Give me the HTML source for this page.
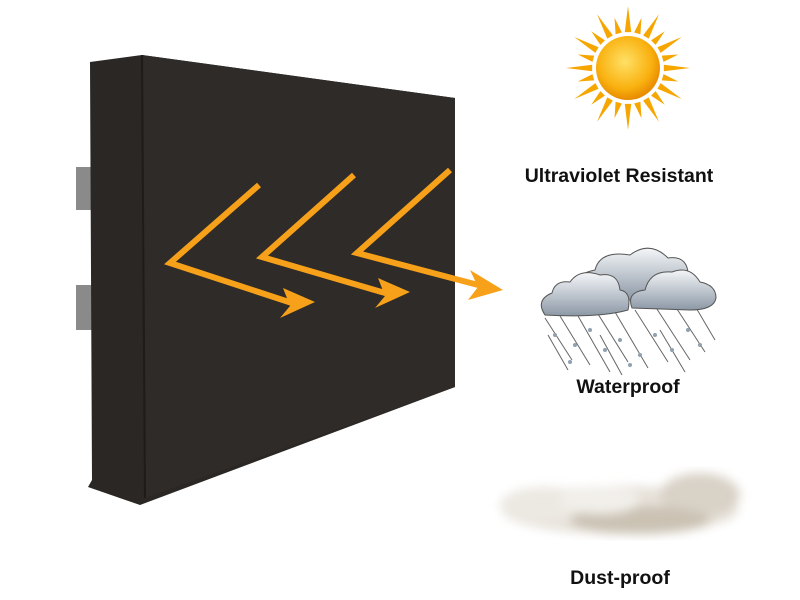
<!DOCTYPE html>
<html><head><style>
html,body{margin:0;padding:0;background:#fff;width:800px;height:600px;overflow:hidden}
.t{position:absolute;font-family:"Liberation Sans",sans-serif;font-weight:bold;font-size:19.5px;color:#111;white-space:nowrap;transform:translateX(-50%)}
</style></head><body>
<svg width="800" height="600" style="position:absolute;left:0;top:0">
<defs>
<radialGradient id="sun" cx="45%" cy="40%" r="60%"><stop offset="0" stop-color="#ffe066"/><stop offset="0.7" stop-color="#f9b10f"/><stop offset="1" stop-color="#e88a00"/></radialGradient>
<linearGradient id="cl" x1="0" y1="0" x2="0" y2="1"><stop offset="0" stop-color="#f4f6f8"/><stop offset="1" stop-color="#8c98a6"/></linearGradient>
<filter id="bl"><feGaussianBlur stdDeviation="5"/></filter>
</defs>
<rect x="76" y="167" width="20" height="43" fill="#8a8a8a"/>
<rect x="76" y="285" width="20" height="45" fill="#8a8a8a"/>
<polygon points="90,62 142,55 455,98 455,387 140,505 88,487 92,480" fill="#2a2724"/>
<polygon points="142,55 455,98 455,387 145,498" fill="#2e2b28"/>
<polyline points="142,55 145,498" stroke="#1e1c1a" stroke-width="2" fill="none"/>
<g stroke="#f7a11a" stroke-width="6" fill="none">
<polyline points="259,185 170,263 298,305"/>
<polyline points="354,175 262,257 392,295"/>
<polyline points="450,170 357,253 482,286"/>
</g>
<g fill="#f7a11a">
<polygon points="315,302 283,288 290,306 280,318"/>
<polygon points="410,292 378,278 385,296 375,308"/>
<polygon points="503,290 470,270 478,287 468,300"/>
</g>
<g transform="translate(628,68)">
<g id="rays" fill="#f7a600"></g>
<circle r="32" fill="url(#sun)"/>
</g>
<!-- rain -->
<g stroke="#666" stroke-width="1">
<line x1="545" y1="318" x2="572" y2="360"/><line x1="560" y1="316" x2="590" y2="365"/><line x1="578" y1="316" x2="610" y2="372"/>
<line x1="598" y1="314" x2="628" y2="362"/><line x1="615" y1="312" x2="648" y2="368"/><line x1="635" y1="310" x2="668" y2="362"/>
<line x1="655" y1="306" x2="690" y2="360"/><line x1="675" y1="306" x2="705" y2="352"/><line x1="695" y1="306" x2="715" y2="340"/>
<line x1="548" y1="335" x2="568" y2="370"/><line x1="600" y1="335" x2="622" y2="375"/><line x1="660" y1="330" x2="685" y2="372"/>
</g>
<g fill="#8fa0b0">
<circle cx="555" cy="335" r="2"/><circle cx="575" cy="345" r="2"/><circle cx="590" cy="330" r="2"/><circle cx="605" cy="350" r="2"/><circle cx="620" cy="340" r="2"/><circle cx="640" cy="355" r="2"/><circle cx="655" cy="335" r="2"/><circle cx="672" cy="350" r="2"/><circle cx="688" cy="330" r="2"/><circle cx="700" cy="345" r="2"/><circle cx="570" cy="362" r="2"/><circle cx="630" cy="365" r="2"/></g>
<path d="M575,300 Q568,275 595,270 Q600,250 630,255 Q650,240 668,258 Q690,255 688,280 L650,300 Z" fill="url(#cl)" stroke="#555" stroke-width="1"/>
<path d="M545,315 Q535,300 552,293 Q555,280 570,282 Q580,268 600,275 Q618,272 620,290 Q632,292 628,310 Q600,318 545,315 Z" fill="url(#cl)" stroke="#555" stroke-width="1"/>
<path d="M632,308 Q626,292 645,290 Q650,270 672,272 Q690,265 700,282 Q716,285 716,298 Q714,310 690,310 Z" fill="url(#cl)" stroke="#555" stroke-width="1"/>
<!-- dust -->
<g filter="url(#bl)">
<ellipse cx="620" cy="510" rx="118" ry="24" fill="#e6e1d9"/>
<ellipse cx="545" cy="505" rx="45" ry="18" fill="#ece8e2"/>
<ellipse cx="700" cy="495" rx="40" ry="22" fill="#d9d2c7"/>
<ellipse cx="640" cy="520" rx="70" ry="14" fill="#cbc2b4"/>
<ellipse cx="600" cy="500" rx="40" ry="14" fill="#f2efea"/>
</g>
</svg>
<script>
var g=document.getElementById('rays'),s='';
for(var i=0;i<24;i++){var a=i*15*Math.PI/180,r1=36,r2=(i%2?52:62),w=0.09;
s+='<polygon points="'+(r1*Math.cos(a-w))+','+(r1*Math.sin(a-w))+' '+(r2*Math.cos(a))+','+(r2*Math.sin(a))+' '+(r1*Math.cos(a+w))+','+(r1*Math.sin(a+w))+'"/>';}
g.innerHTML=s;
</script>
<div class="t" style="left:619px;top:165px">Ultraviolet Resistant</div>
<div class="t" style="left:628px;top:376px">Waterproof</div>
<div class="t" style="left:620px;top:567px">Dust-proof</div>
</body></html>
